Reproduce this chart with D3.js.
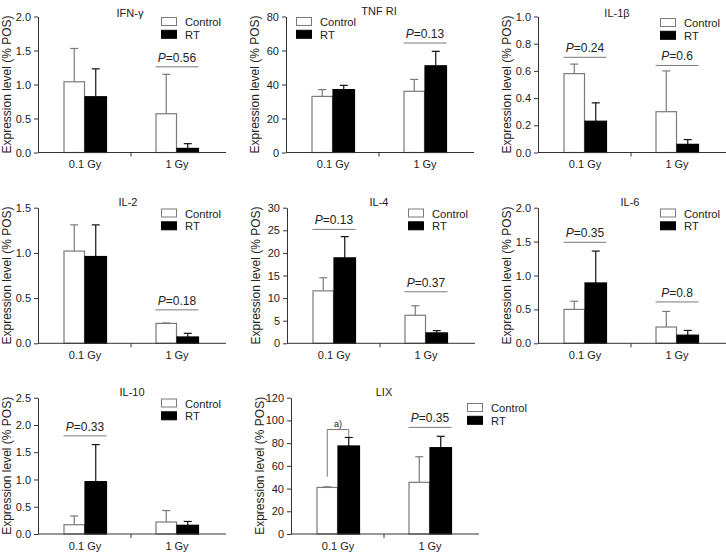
<!DOCTYPE html>
<html>
<head>
<meta charset="utf-8">
<script src="https://cdn.jsdelivr.net/npm/d3@7"></script>
<style>
  body { margin: 0; background: #fff; }
  svg { display: block; font-family: "Liberation Sans", Arial, sans-serif; }
</style>
</head>
<body>
<div id="chart"></div>
<script>
// categories
const groups = ["0.1 Gy", "1 Gy"];
const series = ["Control", "RT"];
const panelNames = ["IFN-\u03b3", "TNF RI", "IL-1\u03b2", "IL-2", "IL-4", "IL-6", "IL-10", "LIX"];

// y axis maximum and tick step for each panel
const yMax = [2, 80, 1, 1.5, 30, 2, 2.5, 120];
const yStep = [0.5, 20, 0.2, 0.5, 5, 0.5, 0.5, 20];

// bar heights, [0.1 Gy, 1 Gy]
const controlMean = [[1.04, 0.57], [33, 36], [0.58, 0.30], [1.02, 0.22], [11.6, 6.2], [0.50, 0.24], [0.17, 0.22], [41, 45.5]];
const rtMean = [[0.82, 0.06], [37, 51], [0.23, 0.06], [0.96, 0.07], [18.9, 2.3], [0.89, 0.12], [0.96, 0.16], [77.5, 76]];
// upper error (SD) of each bar
const controlErr = [[0.49, 0.58], [4, 7], [0.07, 0.30], [0.29, 0.005], [2.9, 2.1], [0.12, 0.23], [0.16, 0.21], [0.5, 22.5]];
const rtErr = [[0.41, 0.07], [2.5, 8.5], [0.135, 0.035], [0.35, 0.04], [4.7, 0.5], [0.47, 0.07], [0.68, 0.07], [7.5, 10]];

// significance labels: panel, group, text, level of the line (data units)
const pPanel = [0, 1, 2, 2, 3, 4, 4, 5, 5, 6, 7];
const pGroup = ["1 Gy", "1 Gy", "0.1 Gy", "1 Gy", "1 Gy", "0.1 Gy", "1 Gy", "0.1 Gy", "1 Gy", "0.1 Gy", "1 Gy"];
const pText = ["0.56", "0.13", "0.24", "0.6", "0.18", "0.13", "0.37", "0.35", "0.8", "0.33", "0.35"];
const pLevel = [1.26, 64.4, 0.70, 0.64, 0.37, 25.2, 11.4, 1.49, 0.61, 1.80, 93.9];

// LIX bracket "a)" between control and RT at 0.1 Gy
const bracketLevels = [50.5, 92, 85.8];

// layout
const width = 726, height = 553;
const axisX = [38, 286, 538, 38, 287, 538, 38, 291];
const rowBottom = [152.5, 343.3, 534];
const rowTop = [16.5, 207.7, 397.7];
const titleX = [130, 379, 617, 128, 379, 630, 132, 384];
const titleY = [16.5, 15, 16.5, 206, 206, 206, 396, 396];
const legendX = [161, 296, 660, 161, 408, 660, 161, 467];
const legendY = [17, 17, 18, 208.5, 208.5, 208.5, 398.5, 403];

const ctrlGray = "#7a7a7a";

const svg = d3
  .select("#chart")
  .append("svg")
  .attr("width", width)
  .attr("height", height)
  .attr("viewBox", [0, 0, width, height]);

panelNames.forEach((name, i) => {
  const row = Math.floor(i / 3);
  const x0 = axisX[i];
  const yBottom = rowBottom[row],
    yTop = rowTop[row];

  const xScale = d3.scalePoint().domain(groups).range([x0 + 47, x0 + 139]);
  const xSub = d3.scaleBand().domain(series).range([-21.5, 21.5]);
  const yScale = d3.scaleLinear().domain([0, yMax[i]]).range([yBottom, yTop]);

  const g = svg.append("g");

  // bars
  const rows = [];
  groups.forEach((grp, j) => {
    rows.push({ grp: grp, key: "Control", value: controlMean[i][j], err: controlErr[i][j] });
    rows.push({ grp: grp, key: "RT", value: rtMean[i][j], err: rtErr[i][j] });
  });

  // error bars (upper only)
  const eb = g.append("g").selectAll("g").data(rows).join("g");
  eb.append("line")
    .attr("x1", (d) => xScale(d.grp) + xSub(d.key) + xSub.bandwidth() / 2)
    .attr("x2", (d) => xScale(d.grp) + xSub(d.key) + xSub.bandwidth() / 2)
    .attr("y1", (d) => yScale(d.value))
    .attr("y2", (d) => yScale(d.value + d.err))
    .attr("stroke", (d) => (d.key === "RT" ? "#111" : ctrlGray))
    .attr("stroke-width", 1.2);
  eb.append("line")
    .attr("x1", (d) => xScale(d.grp) + xSub(d.key) + xSub.bandwidth() / 2 - 4)
    .attr("x2", (d) => xScale(d.grp) + xSub(d.key) + xSub.bandwidth() / 2 + 4)
    .attr("y1", (d) => yScale(d.value + d.err))
    .attr("y2", (d) => yScale(d.value + d.err))
    .attr("stroke", (d) => (d.key === "RT" ? "#111" : ctrlGray))
    .attr("stroke-width", 1.2);

  g.append("g")
    .selectAll("rect")
    .data(rows)
    .join("rect")
    .attr("x", (d) => xScale(d.grp) + xSub(d.key) + (d.key === "Control" ? 0.5 : 0))
    .attr("y", (d) => yScale(d.value))
    .attr("width", (d) => xSub.bandwidth() - (d.key === "Control" ? 1 : 0))
    .attr("height", (d) => yScale(0) - yScale(d.value))
    .attr("fill", (d) => (d.key === "RT" ? "#000" : "#fff"))
    .attr("stroke", (d) => (d.key === "RT" ? "#000" : ctrlGray))
    .attr("stroke-width", 1.2);

  // y axis
  const fmt = yStep[i] < 1 ? d3.format(".1f") : d3.format("d");
  const yAxis = d3
    .axisLeft(yScale)
    .tickValues(d3.range(0, yMax[i] + yStep[i] / 2, yStep[i]))
    .tickFormat(fmt)
    .tickSize(4)
    .tickPadding(3)
    .tickSizeOuter(0);
  const yg = g.append("g").attr("transform", `translate(${x0},0)`).call(yAxis);
  yg.select(".domain").attr("stroke", "#333");
  yg.selectAll(".tick line").attr("stroke", "#333");
  yg.selectAll("text").attr("font-size", 11).attr("fill", "#222").attr("font-family", "Liberation Sans, Arial, sans-serif");

  // x axis
  const xg = g.append("g");
  xg.append("line")
    .attr("x1", x0)
    .attr("x2", x0 + 188)
    .attr("y1", yBottom)
    .attr("y2", yBottom)
    .attr("stroke", "#333");
  xg.append("line")
    .attr("x1", (xScale(groups[0]) + xScale(groups[1])) / 2)
    .attr("x2", (xScale(groups[0]) + xScale(groups[1])) / 2)
    .attr("y1", yBottom)
    .attr("y2", yBottom + 4)
    .attr("stroke", "#333");
  xg.selectAll("text")
    .data(groups)
    .join("text")
    .attr("x", (d) => xScale(d))
    .attr("y", yBottom + 15.5)
    .attr("text-anchor", "middle")
    .attr("font-size", 11)
    .attr("fill", "#222")
    .text((d) => d);

  // y title
  g.append("text")
    .attr("transform", `translate(${x0 - 27},${(yBottom + yTop) / 2}) rotate(-90)`)
    .attr("text-anchor", "middle")
    .attr("font-size", 12)
    .attr("fill", "#222")
    .text("Expression level (% POS)");

  // panel title
  g.append("text")
    .attr("x", titleX[i])
    .attr("y", titleY[i])
    .attr("text-anchor", "middle")
    .attr("font-size", 11)
    .attr("fill", "#222")
    .text(name);

  // legend
  const legend = g.append("g").attr("transform", `translate(${legendX[i]},${legendY[i]})`);
  legend
    .selectAll("rect")
    .data(series)
    .join("rect")
    .attr("x", 0.5)
    .attr("y", (d, k) => k * 12.8 + 0.5)
    .attr("width", 15)
    .attr("height", 8)
    .attr("fill", (d) => (d === "RT" ? "#000" : "#fff"))
    .attr("stroke", (d) => (d === "RT" ? "#000" : ctrlGray));
  legend
    .selectAll("text")
    .data(series)
    .join("text")
    .attr("x", 24)
    .attr("y", (d, k) => k * 12.8 + 9)
    .attr("font-size", 11.2)
    .attr("fill", "#222")
    .text((d) => d);

  // significance lines
  pPanel.forEach((p, k) => {
    if (p !== i) return;
    const cx = xScale(pGroup[k]);
    const ly = yScale(pLevel[k]);
    g.append("line")
      .attr("x1", cx - 21.5)
      .attr("x2", cx + 21.5)
      .attr("y1", ly)
      .attr("y2", ly)
      .attr("stroke", ctrlGray);
    const t = g
      .append("text")
      .attr("x", cx)
      .attr("y", ly - 5)
      .attr("text-anchor", "middle")
      .attr("font-size", 12)
      .attr("fill", "#222");
    t.append("tspan").attr("font-style", "italic").text("P");
    t.append("tspan").text("=" + pText[k]);
  });

  // bracket for LIX
  if (name === "LIX") {
    const cx = xScale(groups[0]);
    const xl = cx + xSub("Control") + xSub.bandwidth() / 2;
    const xr = cx + xSub("RT") + xSub.bandwidth() / 2;
    g.append("path")
      .attr(
        "d",
        `M${xl},${yScale(bracketLevels[0])}V${yScale(bracketLevels[1])}H${xr}V${yScale(bracketLevels[2])}`
      )
      .attr("fill", "none")
      .attr("stroke", ctrlGray);
    g.append("text")
      .attr("x", (xl + xr) / 2)
      .attr("y", yScale(bracketLevels[1]) - 3)
      .attr("text-anchor", "middle")
      .attr("font-size", 9)
      .attr("fill", "#222")
      .text("a)");
  }
});
</script>
</body>
</html>
